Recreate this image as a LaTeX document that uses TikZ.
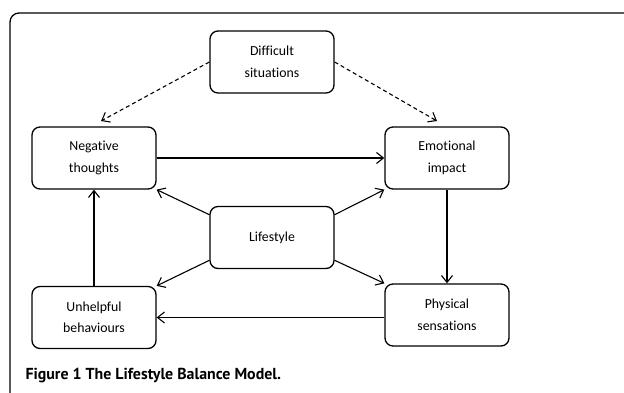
\documentclass[tikz,border=0pt]{standalone}
\usepackage{fontspec}
\setmainfont{Carlito}[Ligatures=NoCommon]
\newfontfamily\capfont{PT Sans}
\usetikzlibrary{arrows.meta,calc}

\begin{document}
\begin{tikzpicture}
  [x=1pt,y=-1pt,
   box/.style={draw,rounded corners=8pt,line width=1.3pt,minimum width=124pt,minimum height=62pt,
     inner sep=0pt,align=center,font=\fontsize{13.8}{21.5}\selectfont},
   link/.style={->,line width=1.1pt},
   hint/.style={link,dash pattern=on 4pt off 3pt},
   >={Straight Barb[length=7pt,width=11pt]}]

  \useasboundingbox (0,0) rectangle (624,392);
  \draw[line width=1.3pt,rounded corners=9pt] (10,400) -- (10,13) -- (640,13);

  \node[box] (diff) at (272,62)    {Difficult\\situations};
  \node[box] (neg)  at (94,158)    {Negative\\thoughts};
  \node[box] (emo)  at (447,158)   {Emotional\\impact};
  \node[box] (life) at (272,237.5) {Lifestyle};
  \node[box] (unh)  at (94,317.5)  {Unhelpful\\behaviours};
  \node[box] (phys) at (447,315)   {Physical\\sensations};

  \node[anchor=base west,font=\capfont\bfseries\fontsize{15.9}{18}\selectfont] (cap) at (22,379)
    {Figure 1 The Lifestyle Balance Model.};

  \coordinate (negtop) at (101,121);
  \coordinate (emotop) at (437,121);

  \draw[hint] (diff.west) -- (negtop);
  \draw[hint] (diff.east) -- (emotop);

  \foreach \from/\to in {neg.east/emo.west,emo.south/phys.north,unh.north/neg.south,
      life.160/neg.south east,life.20/emo.south west,life.200/unh.north east,life.340/phys.north west}
    \draw[link] (\from) -- (\to);

  \draw[link] (phys.west |- unh.east) -- (unh.east);

\end{tikzpicture}
\end{document}
